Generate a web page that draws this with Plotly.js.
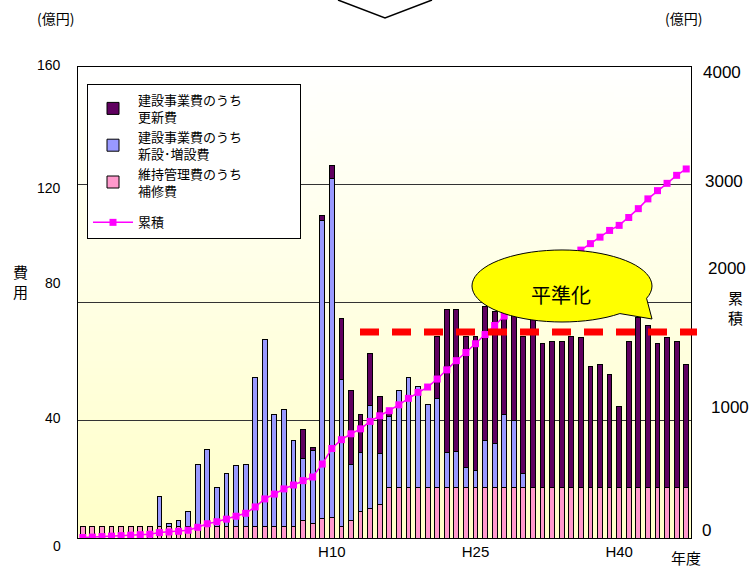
<!DOCTYPE html>
<html><head><meta charset="utf-8">
<script src="https://cdn.plot.ly/plotly-3.0.1.min.js"></script>
<style>html,body{margin:0;padding:0;background:#fff}</style>
</head><body>
<div id="chart" style="width:750px;height:570px"></div>
<script>
// Fiscal years (S47 .. H47)
const years = ['S47','S48','S49','S50','S51','S52','S53','S54','S55','S56','S57','S58','S59','S60','S61','S62','S63',
  'H1','H2','H3','H4','H5','H6','H7','H8','H9','H10','H11','H12','H13','H14','H15','H16','H17','H18','H19','H20',
  'H21','H22','H23','H24','H25','H26','H27','H28','H29','H30','H31','H32','H33','H34','H35','H36','H37','H38','H39','H40',
  'H41','H42','H43','H44','H45','H46','H47'];

// 維持管理費のうち補修費 (億円)
const repairCost = [4,4,4,4,4,4,4,4, 4,4,4,4,4,4,4,4,4,4,4,4,4,4,4,
  6,5,6.5,7,4,6,9,10,11.5,
  17,17,17,17,17,17,17,17,17,17,17,17,17,17,17,17,17,17,17,17,17,17,17,17,17,17,17,17,17,17,17,17];
// 建設事業費のうち新設・増設費 (億円)
const newCost = [0,0,0,0,0,0,0,0,
  10,1,2,5,21,26,13,18,20.5,21,50.5,63.6,37.8,39.7,29,
  21,24.7,101.2,115.2,49.7,19,20,35,17.3,
  24.3,33,37.5,34.4,28.2,30.4,12,12.3,7,6,16,15,25,23,5,
  0,0,0,0,0,0,0,0,0,0,0,0,0,0,0,0,0];
// 建設事業費のうち更新費 (億円)
const renewCost = [0,0,0,0,0,0,0,0,0,0,0,0,0,0,0,0,0,0,0,0,0,0,0,
  10,1,2,4.3,20.9,25,13,17.6,19.2,
  1,0,0,0,0,21,48.7,48.4,44.4,45.4,45.6,45,38,38,46.4,59,
  49.1,49.7,49.7,51.4,51,41.4,41.8,38.7,27.8,49.7,58,55.3,49.1,51,49.7,41.8];
// 累積 (億円)
const cumulative = [4,8,12,16,20,24,28,32,46,51,57,66,91,121,138,160,185,210,264,332,373,417,450,487,518,628,760,
  835,885,927,990,1038,1081,1131,1186,1237,1282,1350,1428,1506,1575,1650,1728,1805,1885,1963,2031,2107,2173,
  2240,2307,2376,2445,2500,2555,2612,2655,2722,2797,2880,2950,3012,3080,3134];

const xTickLabels = ['H10','H25','H40'];
const leftTicks = [0,40,80,120,160];
const rightTicks = [0,1000,2000,3000,4000];
const levelValue = 70; // 平準化ライン

// where the original picture prints the tick labels (pixels), layout only
const leftLabelPos = [[63,546],[63,418],[63,283],[63,188],[63,65]];
const rightLabelPos = [[700,530],[709,407],[706,268],[703,182],[701,72]];

const FONT = '"Noto Sans CJK JP", "Liberation Sans", sans-serif';
const NUMFONT = '"Liberation Sans", sans-serif';
const L = 78, T = 67, W = 613, H = 471;
const px = x => (x - L) / W;
const py = y => (T + H - y) / H;

// gradient background
const cv = document.createElement('canvas'); cv.width = 4; cv.height = 256;
const g = cv.getContext('2d');
const gr = g.createLinearGradient(0, 0, 0, 256);
gr.addColorStop(0, '#FFFFFF'); gr.addColorStop(1, '#FFFFC8');
g.fillStyle = gr; g.fillRect(0, 0, 4, 256);

function calloutPath() {
  const cx = 562, cy = 286, rx = 90, ry = 36;
  const a1 = 20, a2 = 50;
  const pts = [];
  for (let a = a1; a >= a2 - 360; a -= 5) {
    pts.push([cx + rx * Math.cos(a * Math.PI / 180), cy + ry * Math.sin(a * Math.PI / 180)]);
  }
  pts.push([652, 319]);
  return 'M' + pts.map(p => px(p[0]).toFixed(4) + ',' + py(p[1]).toFixed(4)).join(' L') + ' Z';
}

const barLine = {color: '#000', width: 1};
const SP = '\u3000\u3000\u3000\u3000';
const traces = [
  {type: 'bar', x: years, y: repairCost, name: '維持管理費のうち' + SP + '<br>補修費',
   marker: {color: '#FF99CC', line: barLine}, legendrank: 3, legendgroup: 'bars'},
  {type: 'bar', x: years, y: newCost, name: '建設事業費のうち' + SP + '<br>新設･増設費',
   marker: {color: '#9999FF', line: barLine}, legendrank: 2, legendgroup: 'bars'},
  {type: 'bar', x: years, y: renewCost, name: '建設事業費のうち' + SP + '<br>更新費',
   marker: {color: '#600060', line: barLine}, legendrank: 1, legendgroup: 'bars'},
  {type: 'scatter', mode: 'lines+markers', x: years, y: cumulative, yaxis: 'y2', name: '累積',
   line: {color: '#FF00FF', width: 1.5}, marker: {symbol: 'square', size: 7, color: '#FF00FF'},
   legendrank: 4, legendgroup: 'cum'}
];

const ann = (text, x, y, size, xanchor) => ({text, xref: 'paper', yref: 'paper', x: px(x), y: py(y),
  xanchor: xanchor || 'center', yanchor: 'middle', showarrow: false, font: {family: FONT, size}});

const annotations = [
  ann('平準化', 561, 294, 20),
  ann('(億円)', 55, 18, 14),
  ann('(億円)', 683, 18, 14),
  ann('費<br>用', 20, 281, 15),
  ann('累<br>積', 735, 307, 15),
  ann('年度', 686, 557, 15)
];
leftTicks.forEach((v, i) => {
  const a = ann(String(v), leftLabelPos[i][0], leftLabelPos[i][1], 14, 'right');
  a.font.family = NUMFONT; annotations.push(a);
});
rightTicks.forEach((v, i) => {
  const a = ann(String(v), rightLabelPos[i][0], rightLabelPos[i][1], 17, 'left');
  a.font.family = NUMFONT; annotations.push(a);
});

const layout = {
  width: 750, height: 570,
  margin: {l: L, r: 750 - L - W, t: T, b: 570 - T - H},
  paper_bgcolor: '#FFFFFF', plot_bgcolor: 'rgba(0,0,0,0)',
  font: {family: FONT, size: 13, color: '#000'},
  barmode: 'stack', bargap: 0.5,
  showlegend: true,
  legend: {x: px(87), y: py(84), xanchor: 'left', yanchor: 'top', bgcolor: '#FFFFFF',
    bordercolor: '#000', borderwidth: 1, traceorder: 'grouped', tracegroupgap: 12,
    font: {family: FONT, size: 13}, itemwidth: 40},
  xaxis: {type: 'category', range: [-0.5, years.length - 0.5], tickvals: xTickLabels, ticktext: xTickLabels,
    ticks: '', showline: true, mirror: true, linecolor: '#000', linewidth: 1, showgrid: false,
    tickfont: {family: NUMFONT, size: 15}},
  yaxis: {range: [0, 160], tickvals: leftTicks, showticklabels: false, showline: true, linecolor: '#000', linewidth: 1,
    showgrid: true, gridcolor: '#333', gridwidth: 1, zeroline: false, ticks: ''},
  yaxis2: {range: [0, 4000], tickvals: rightTicks, showticklabels: false, overlaying: 'y', side: 'right', showline: true,
    linecolor: '#000', linewidth: 1, showgrid: false, zeroline: false, ticks: ''},
  images: [{source: cv.toDataURL(), xref: 'paper', yref: 'paper', x: 0, y: 1, sizex: 1, sizey: 1,
    sizing: 'stretch', xanchor: 'left', yanchor: 'top', layer: 'below'}],
  shapes: [
    {type: 'line', xref: 'paper', yref: 'y', x0: px(360), x1: px(697), y0: levelValue, y1: levelValue,
     line: {color: '#FF0000', width: 7, dash: '19px,13px'}},
    {type: 'path', xref: 'paper', yref: 'paper', path: calloutPath(), fillcolor: '#FFFF00',
     line: {color: '#000', width: 1}},
    {type: 'path', xref: 'paper', yref: 'paper',
     path: 'M' + px(338) + ',' + py(0) + ' L' + px(385) + ',' + py(18) + ' L' + px(432) + ',' + py(0),
     line: {color: '#000', width: 1.5}}
  ],
  annotations
};

Plotly.newPlot('chart', traces, layout, {displayModeBar: false, staticPlot: true});
</script>
</body></html>
